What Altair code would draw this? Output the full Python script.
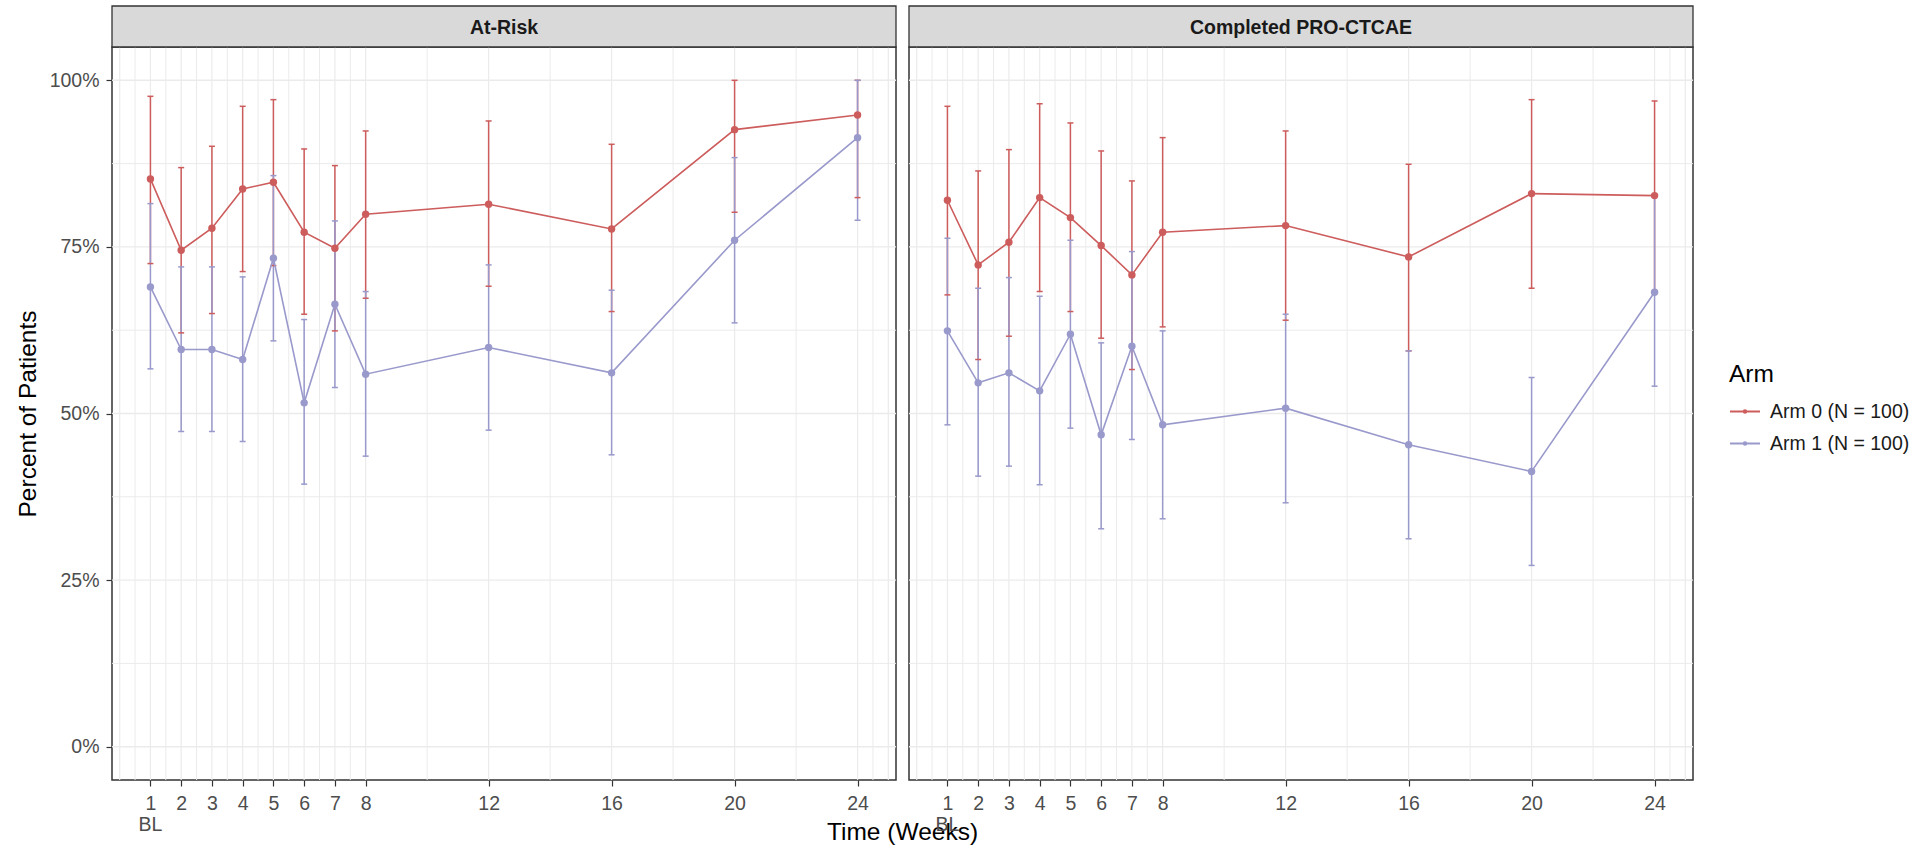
import altair as alt
import pandas as pd

# ---------------- data ----------------
weeks = [1, 2, 3, 4, 5, 6, 7, 8, 12, 16, 20, 24]
panels = ["At-Risk", "Completed PRO-CTCAE"]
arms = ["Arm 0 (N = 100)", "Arm 1 (N = 100)"]

# At-Risk, Arm 0
ar0_est = [85.2, 74.5, 77.8, 83.7, 84.7, 77.2, 74.8, 79.9, 81.4, 77.7, 92.6, 94.8]
ar0_lo = [72.5, 62.1, 65.0, 71.3, 72.2, 64.9, 62.4, 67.3, 69.1, 65.3, 80.2, 82.4]
ar0_hi = [97.6, 86.9, 90.1, 96.1, 97.1, 89.7, 87.2, 92.4, 93.9, 90.4, 100.0, 100.0]
# At-Risk, Arm 1
ar1_est = [69.0, 59.6, 59.6, 58.1, 73.3, 51.6, 66.4, 55.9, 59.9, 56.1, 76.0, 91.4]
ar1_lo = [56.7, 47.3, 47.3, 45.8, 60.9, 39.4, 53.9, 43.6, 47.5, 43.8, 63.6, 79.0]
ar1_hi = [81.5, 72.0, 72.0, 70.5, 85.7, 64.1, 78.9, 68.3, 72.3, 68.5, 88.4, 100.0]
# Completed PRO-CTCAE, Arm 0
cp0_est = [82.0, 72.3, 75.7, 82.4, 79.4, 75.2, 70.8, 77.2, 78.2, 73.5, 83.0, 82.7]
cp0_lo = [67.8, 58.1, 61.6, 68.3, 65.3, 61.3, 56.6, 63.0, 64.0, 59.4, 68.8, 68.4]
cp0_hi = [96.1, 86.4, 89.6, 96.5, 93.6, 89.4, 84.9, 91.4, 92.4, 87.4, 97.1, 96.9]
# Completed PRO-CTCAE, Arm 1
cp1_est = [62.4, 54.6, 56.1, 53.4, 61.9, 46.8, 60.1, 48.3, 50.8, 45.3, 41.3, 68.2]
cp1_lo = [48.3, 40.6, 42.1, 39.3, 47.8, 32.7, 46.1, 34.2, 36.6, 31.2, 27.2, 54.1]
cp1_hi = [76.3, 68.8, 70.4, 67.6, 76.0, 60.6, 74.3, 62.4, 64.9, 59.4, 55.4, 82.5]

# axis breaks / grid positions
x_label_weeks = [1, 2, 3, 4, 5, 6, 7, 8, 12, 16, 20, 24]
x_grid_major = [0, 1, 2, 3, 4, 5, 6, 7, 8, 12, 16, 20, 24, 25]
x_grid_minor = [0.5, 1.5, 2.5, 3.5, 4.5, 5.5, 6.5, 7.5, 10, 14, 18, 22, 24.5]
y_breaks = [0, 25, 50, 75, 100]
y_grid_minor = [12.5, 37.5, 62.5, 87.5]
bl_week = [1]
bl_text = ["BL"]

series = [
    (panels[0], arms[0], ar0_est, ar0_lo, ar0_hi),
    (panels[0], arms[1], ar1_est, ar1_lo, ar1_hi),
    (panels[1], arms[0], cp0_est, cp0_lo, cp0_hi),
    (panels[1], arms[1], cp1_est, cp1_lo, cp1_hi),
]
rows = []
for p, a, est, lo, hi in series:
    for w, e, l, h in zip(weeks, est, lo, hi):
        rows.append({"panel": p, "arm": a, "week": w, "est": e, "lo": l, "hi": h})
df = pd.DataFrame(rows)

# ---------------- styling ----------------
FONT = "Liberation Sans"
W, H = 784, 733
STRIP_H = 41
GRID = "#EBEBEB"
DARK = "#333333"

xscale = alt.Scale(domain=[-0.25, 25.25], nice=False, zero=False)
yscale = alt.Scale(domain=[-5, 105], nice=False, zero=False)
cscale = alt.Scale(domain=arms, range=["#CD5C5C", "#9999CC"])

# legend key: a short line with a dot in the middle (ggplot line+point key)
legend_symbol = (
    "M-1,0L1,0"
    "M-0.09,0A0.09,0.09,0,1,1,0.09,0A0.09,0.09,0,1,1,-0.09,0Z"
    "M-0.05,0A0.05,0.05,0,1,1,0.05,0A0.05,0.05,0,1,1,-0.05,0Z"
)
legend = alt.Legend(
    title="Arm", orient="none", legendX=1617, legendY=316, padding=0,
    titleFont=FONT, titleFontSize=24.5, titleFontWeight="normal", titleColor="#000000",
    titlePadding=8,
    labelFont=FONT, labelFontSize=19.5, labelColor="#1A1A1A", labelOffset=9,
    symbolType=legend_symbol, symbolSize=900, symbolStrokeWidth=1.8,
    rowPadding=6,
)
color = alt.Color("arm:N", scale=cscale, legend=legend)


def make_panel(name, first):
    base = alt.Chart(df).transform_filter(alt.datum.panel == name)

    xaxis_kw = dict(
        values=x_label_weeks,
        grid=False, domain=False,
        tickColor=DARK, tickSize=6, tickWidth=1.2,
        labelColor="#4D4D4D", labelFont=FONT, labelFontSize=19.5,
        labelPadding=8, labelFlush=False, labelOverlap=False,
    )
    if first:
        xaxis_kw.update(title="Time (Weeks)", titleX=790, titleY=59,
                        titleBaseline="alphabetic", titleAlign="center",
                        titleFont=FONT, titleFontSize=24.5, titleFontWeight="normal",
                        titleColor="#000000")
    else:
        xaxis_kw.update(title=None)
    xaxis = alt.Axis(**xaxis_kw)

    if first:
        yaxis = alt.Axis(
            values=y_breaks, labelExpr="datum.value + '%'",
            grid=False, domain=False,
            tickColor=DARK, tickSize=6, tickWidth=1.2,
            labelColor="#4D4D4D", labelFont=FONT, labelFontSize=19.5, labelPadding=7,
            title="Percent of Patients", titleFont=FONT, titleFontSize=24.5,
            titleFontWeight="normal", titleColor="#000000", titlePadding=9,
        )
    else:
        yaxis = None

    def X(field):
        return alt.X(field, scale=xscale, axis=xaxis)

    def Y(field):
        return alt.Y(field, scale=yscale, axis=yaxis)

    # gridlines
    gx_major = alt.Chart(pd.DataFrame({"gx": x_grid_major})).mark_rule(
        color=GRID, strokeWidth=1.2).encode(x=X("gx:Q"))
    gx_minor = alt.Chart(pd.DataFrame({"gx": x_grid_minor})).mark_rule(
        color=GRID, strokeWidth=1.0).encode(x=X("gx:Q"))
    gy_major = alt.Chart(pd.DataFrame({"gy": y_breaks})).mark_rule(
        color=GRID, strokeWidth=1.4).encode(y=Y("gy:Q"))
    gy_minor = alt.Chart(pd.DataFrame({"gy": y_grid_minor})).mark_rule(
        color=GRID, strokeWidth=1.0).encode(y=Y("gy:Q"))

    # main marks
    err = base.mark_rule(strokeWidth=1.5).encode(
        x=X("week:Q"), y=Y("lo:Q"), y2="hi:Q", color=color)
    cap_lo = base.mark_tick(orient="horizontal", size=6, thickness=1.5, opacity=1).encode(
        x=X("week:Q"), y=Y("lo:Q"), color=color)
    cap_hi = base.mark_tick(orient="horizontal", size=6, thickness=1.5, opacity=1).encode(
        x=X("week:Q"), y=Y("hi:Q"), color=color)
    line = base.mark_line(strokeWidth=1.6).encode(
        x=X("week:Q"), y=Y("est:Q"), color=color)
    pts = base.mark_circle(size=55, opacity=1).encode(
        x=X("week:Q"), y=Y("est:Q"), color=color)

    # "BL" second line under week 1
    bl = alt.Chart(pd.DataFrame({"bw": bl_week, "bt": bl_text})).mark_text(
        font=FONT, fontSize=19.5, color="#4D4D4D", baseline="alphabetic", align="center"
    ).encode(x=X("bw:Q"), y=alt.value(H + 51), text="bt:N")

    # facet strip
    sdf = pd.DataFrame({"s": [name]})
    strip_bg = alt.Chart(sdf).mark_rect(fill="#D9D9D9", stroke=DARK, strokeWidth=1.3).encode(
        x=alt.value(0), x2=alt.value(W), y=alt.value(-STRIP_H), y2=alt.value(0))
    strip_txt = alt.Chart(sdf).mark_text(
        font=FONT, fontSize=19.5, fontWeight="bold", color="#1A1A1A",
        baseline="middle", align="center").encode(
        x=alt.value(W / 2), y=alt.value(-STRIP_H / 2 + 1), text="s:N")

    return alt.layer(
        gx_major, gx_minor, gy_major, gy_minor,
        err, cap_lo, cap_hi, line, pts, bl, strip_bg, strip_txt,
    ).properties(width=W, height=H)


left = make_panel(panels[0], True)
right = make_panel(panels[1], False)

chart = alt.hconcat(left, right, spacing=13, bounds="flush").properties(
    padding={"left": 14, "top": 4, "right": 5, "bottom": 5}
).configure_view(stroke=DARK, strokeWidth=1.5)

chart.save("out.html", embed_options={"renderer": "svg", "actions": False})
